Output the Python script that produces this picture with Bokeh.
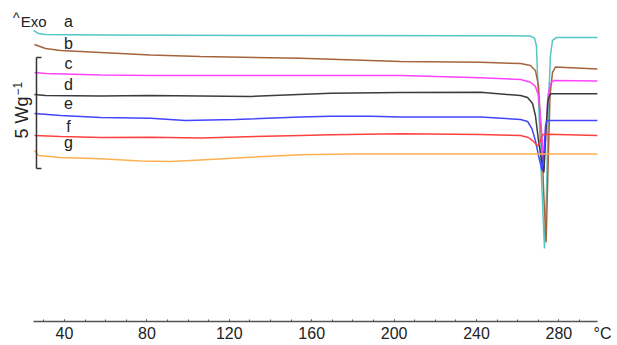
from bokeh.plotting import figure
from bokeh.models import Range1d, SingleIntervalTicker
from bokeh.core.properties import value
from bokeh.embed import file_html
from bokeh.resources import INLINE
import math

# ---- data: temperature (degC) and heat flow (W/g, curves offset for display) ----
T_a = [24.95, 27.4, 30.8, 57.5, 154.6, 251.7, 266.2, 268.2, 269.1, 270.1, 271.6, 273.0, 274.0, 275.0, 275.9, 276.9, 278.8, 298.7]
Y_a = [13.20, 13.06, 13.02, 13.00, 12.97, 12.96, 12.95, 12.84, 12.52, 10.05, 6.44, 3.38, 5.99, 10.05, 12.07, 12.75, 12.88, 12.88]

T_b = [25.4, 30.8, 38.1, 57.5, 81.7, 106.0, 154.6, 203.1, 241.9, 261.4, 266.2, 268.6, 270.1, 271.6, 272.8, 273.8, 274.7, 275.7, 276.9, 278.3, 298.7]
Y_b = [12.57, 12.39, 12.30, 12.21, 12.09, 12.03, 11.95, 11.80, 11.77, 11.71, 11.62, 11.40, 10.72, 8.24, 5.54, 3.66, 6.89, 10.27, 11.31, 11.55, 11.47]

T_c = [25.4, 30.8, 57.5, 81.7, 203.1, 241.9, 261.4, 266.2, 268.6, 270.1, 271.6, 272.7, 273.7, 274.7, 275.9, 277.4, 298.7]
Y_c = [11.31, 11.26, 11.19, 11.17, 11.17, 11.07, 10.99, 10.87, 10.68, 10.27, 8.69, 6.89, 8.69, 10.27, 10.81, 10.95, 10.92]

T_d = [25.4, 30.8, 57.5, 81.7, 130.3, 169.1, 203.1, 241.9, 261.4, 264.8, 267.2, 268.6, 270.1, 271.6, 272.7, 273.7, 274.7, 275.9, 298.7]
Y_d = [10.32, 10.27, 10.25, 10.27, 10.23, 10.37, 10.41, 10.42, 10.27, 10.18, 9.91, 9.37, 8.24, 7.34, 6.80, 8.69, 10.05, 10.35, 10.35]

T_e = [25.4, 38.1, 57.5, 81.7, 98.7, 123.0, 154.6, 169.1, 188.5, 203.1, 241.9, 261.4, 264.8, 266.9, 268.6, 270.1, 271.8, 272.8, 273.5, 274.3, 298.7]
Y_e = [9.46, 9.37, 9.28, 9.25, 9.14, 9.19, 9.30, 9.34, 9.34, 9.30, 9.30, 9.19, 9.10, 8.78, 8.24, 7.57, 6.89, 7.79, 8.92, 9.14, 9.14]

T_f = [25.4, 38.1, 57.5, 81.7, 106.0, 154.6, 169.1, 203.1, 241.9, 261.4, 265.2, 267.2, 268.6, 269.6, 270.6, 271.6, 272.5, 274.5, 298.7]
Y_f = [8.47, 8.42, 8.38, 8.39, 8.36, 8.47, 8.50, 8.55, 8.51, 8.47, 8.38, 8.24, 8.11, 8.00, 8.11, 8.42, 8.51, 8.53, 8.47]

T_g = [25.4, 27.4, 38.1, 57.5, 76.9, 91.5, 106.0, 130.3, 154.6, 178.8, 298.7]
Y_g = [7.79, 7.57, 7.48, 7.42, 7.32, 7.30, 7.37, 7.49, 7.60, 7.64, 7.64]

series_names = ["a", "b", "c", "d", "e", "f", "g"]
series_T = [T_a, T_b, T_c, T_d, T_e, T_f, T_g]
series_Y = [Y_a, Y_b, Y_c, Y_d, Y_e, Y_f, Y_g]
series_colors = ["#55c6c6", "#a5633c", "#ff44ff", "#3c3c3c", "#4444ff", "#ff4040", "#ffb050"]

# curve label anchors (degC, W/g)
label_T = [41.9] * 7
label_Y = [13.60, 12.63, 11.73, 10.75, 9.94, 8.87, 8.14]

# scale bar: 5 W/g
scale_T = 26.4
scale_bottom = 6.98
scale_size = 5.0

tick_interval = 40
unit_label = "°C"

FONT = "Liberation Sans"

p = figure(width=617, height=345, output_backend="svg", toolbar_location=None,
           x_range=Range1d(8.93, 308.45), y_range=Range1d(-0.99, 14.55),
           y_axis_location=None,
           min_border_left=0, min_border_right=0, min_border_top=0, min_border_bottom=0)
p.grid.visible = False
p.outline_line_color = None
p.background_fill_color = "white"
p.border_fill_color = "white"

ax = p.xaxis[0]
ax.fixed_location = 0.07
ax.ticker = SingleIntervalTicker(interval=tick_interval, num_minor_ticks=4)
ax.bounds = (25.0, 298.7)
ax.axis_line_color = "#555555"
ax.axis_line_width = 1.5
ax.major_tick_in = 2
ax.major_tick_out = 0
ax.minor_tick_in = 2
ax.minor_tick_out = 0
ax.major_tick_line_color = "#555555"
ax.minor_tick_line_color = "#555555"
ax.major_label_text_font = FONT
ax.major_label_text_font_size = "16px"
ax.major_label_text_color = "#222222"
ax.major_label_standoff = 5

for T, Y, c in zip(series_T, series_Y, series_colors):
    p.line(T, Y, line_color=c, line_width=1.5)

p.text(x=label_T, y=label_Y, text=series_names, text_font=value(FONT),
       text_font_size="16px", text_align="center", text_baseline="middle",
       text_color="#222222")

# Exo marker
p.text(x=[15.0], y=[13.74], text=["^"], text_font=value(FONT), text_font_size="14px",
       text_align="left", text_baseline="middle", text_color="#222222")
p.text(x=[18.8], y=[13.59], text=["Exo"], text_font=value(FONT), text_font_size="15px",
       text_align="left", text_baseline="middle", text_color="#222222")

# scale bracket
stub = 2.4
p.segment(x0=[scale_T, scale_T, scale_T], y0=[scale_bottom, scale_bottom, scale_bottom + scale_size],
          x1=[scale_T, scale_T + stub, scale_T + stub], y1=[scale_bottom + scale_size, scale_bottom, scale_bottom + scale_size],
          line_color="#333333", line_width=1.5)
p.text(x=[19.6], y=[8.33], text=["%d Wg" % scale_size], angle=math.pi / 2,
       text_font=value(FONT), text_font_size="18px", text_align="left",
       text_baseline="alphabetic", text_color="#222222")
p.text(x=[17.0], y=[10.27], text=["\u22121"], angle=math.pi / 2,
       text_font=value(FONT), text_font_size="12px", text_align="left",
       text_baseline="alphabetic", text_color="#222222")

# unit label at the right end of the temperature axis
p.text(x=[301.2], y=[-0.47], text=[unit_label], text_font=value(FONT), text_font_size="16px",
       text_align="center", text_baseline="middle", text_color="#222222")

open("out.html", "w").write(file_html(p, INLINE))
